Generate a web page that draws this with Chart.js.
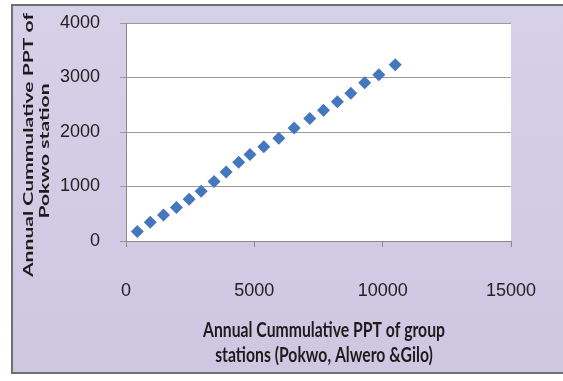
<!DOCTYPE html>
<html>
<head>
<meta charset="utf-8">
<script src="https://cdn.jsdelivr.net/npm/chart.js@4"></script>
<style>
  html, body { margin: 0; padding: 0; background: #ffffff; }
  #wrap { position: relative; width: 563px; height: 381px; overflow: hidden; }
  #frame {
    position: absolute; left: 11px; top: 4px; width: 560px; height: 366px;
    background: linear-gradient(180deg, #d6d0e8 0%, #cfc7e2 100%);
    border: 2px solid #6f6f6f; border-right: none;
  }
  #chart { position: absolute; left: 0; top: 0; }
</style>
</head>
<body>
<div id="wrap">
  <div id="frame"></div>
  <canvas id="chart" width="563" height="381"></canvas>
</div>
<script>
// Annual cumulative precipitation: group of stations vs. Pokwo station
const groupCumulative = [440, 945, 1460, 1965, 2460, 2930, 3430, 3900, 4390, 4830,
                         5370, 5955, 6550, 7160, 7695, 8235, 8760, 9300, 9850, 10490];
const pokwoCumulative = [175, 345, 475, 615, 765, 915, 1090, 1265, 1445, 1585,
                         1730, 1887, 2074, 2250, 2400, 2553, 2712, 2905, 3052, 3235];

const xTicks = [0, 5000, 10000, 15000];
const yTicks = [0, 1000, 2000, 3000, 4000];

const xTitleLines = ['Annual Cummulative PPT of group', 'stations (Pokwo, Alwero &Gilo)'];
const yTitleLines = ['Annual Cummulative PPT of', 'Pokwo station'];

const points = groupCumulative.map((x, i) => ({ x: x, y: pokwoCumulative[i] }));

const tickFont = { family: '"Liberation Sans", Arial, sans-serif', size: 18 };

// white plotting area
const plotBackground = {
  id: 'plotBackground',
  beforeDraw(chart) {
    const a = chart.chartArea, ctx = chart.ctx;
    ctx.save();
    ctx.fillStyle = '#ffffff';
    ctx.fillRect(a.left, a.top, a.right - a.left, a.bottom - a.top);
    ctx.restore();
  }
};

// axis titles, drawn slightly tall and narrow like the classic spreadsheet look
const axisTitles = {
  id: 'axisTitles',
  afterDraw(chart) {
    const ctx = chart.ctx;
    ctx.save();
    ctx.fillStyle = '#1c1c1c';
    ctx.textAlign = 'center';
    ctx.textBaseline = 'middle';

    // horizontal axis title
    ctx.font = 'bold 16px Lato, "Open Sans", sans-serif';
    const sx = 242 / ctx.measureText(xTitleLines[0]).width;
    const xCenter = 324;
    [330, 355].forEach((cy, i) => {
      ctx.save();
      ctx.translate(xCenter, cy);
      ctx.scale(sx, 1.28);
      ctx.fillText(xTitleLines[i], 0, 0);
      ctx.restore();
    });

    // vertical axis title
    ctx.font = 'bold 14px Lato, "Open Sans", sans-serif';
    const sl = 264 / ctx.measureText(yTitleLines[0]).width;
    [[28, 145], [44, 151]].forEach((pos, i) => {
      ctx.save();
      ctx.translate(pos[0], pos[1]);
      ctx.rotate(-Math.PI / 2);
      ctx.scale(sl, 1);
      ctx.fillText(yTitleLines[i], 0, 0);
      ctx.restore();
    });
    ctx.restore();
  }
};

// keep tick-label overflow from shrinking the plotting area
function noScalePadding(scale) {
  scale.paddingLeft = 0;
  scale.paddingRight = 0;
  scale.paddingTop = 0;
  scale.paddingBottom = 0;
}

new Chart(document.getElementById('chart'), {
  type: 'scatter',
  data: {
    datasets: [{
      data: points,
      pointStyle: 'rectRot',
      pointRadius: 6.5,
      pointHoverRadius: 6.5,
      backgroundColor: '#4477be',
      borderColor: '#4477be',
      borderWidth: 0
    }]
  },
  options: {
    responsive: false,
    animation: false,
    events: [],
    layout: { padding: { left: 0, top: 23, right: 52, bottom: 0 } },
    plugins: { legend: { display: false }, tooltip: { enabled: false } },
    scales: {
      x: {
        type: 'linear',
        min: xTicks[0],
        max: xTicks[xTicks.length - 1],
        afterFit(scale) { scale.height = 140; noScalePadding(scale); },
        afterBuildTicks(scale) { scale.ticks = xTicks.map(v => ({ value: v })); },
        ticks: {
          font: tickFont, color: '#222222', padding: 33,
          maxRotation: 0, callback: v => String(v)
        },
        grid: { drawOnChartArea: false, drawTicks: true, tickLength: 6, color: '#8a8a8a' },
        border: { display: true, color: '#8a8a8a' }
      },
      y: {
        type: 'linear',
        min: yTicks[0],
        max: yTicks[yTicks.length - 1],
        afterFit(scale) { scale.width = 126; noScalePadding(scale); },
        afterBuildTicks(scale) { scale.ticks = yTicks.map(v => ({ value: v })); },
        ticks: { font: tickFont, color: '#222222', padding: 20, callback: v => String(v) },
        grid: { color: '#9a9a9a', tickLength: 6, drawTicks: true },
        border: { display: true, color: '#8a8a8a' }
      }
    }
  },
  plugins: [plotBackground, axisTitles]
});
</script>
</body>
</html>
